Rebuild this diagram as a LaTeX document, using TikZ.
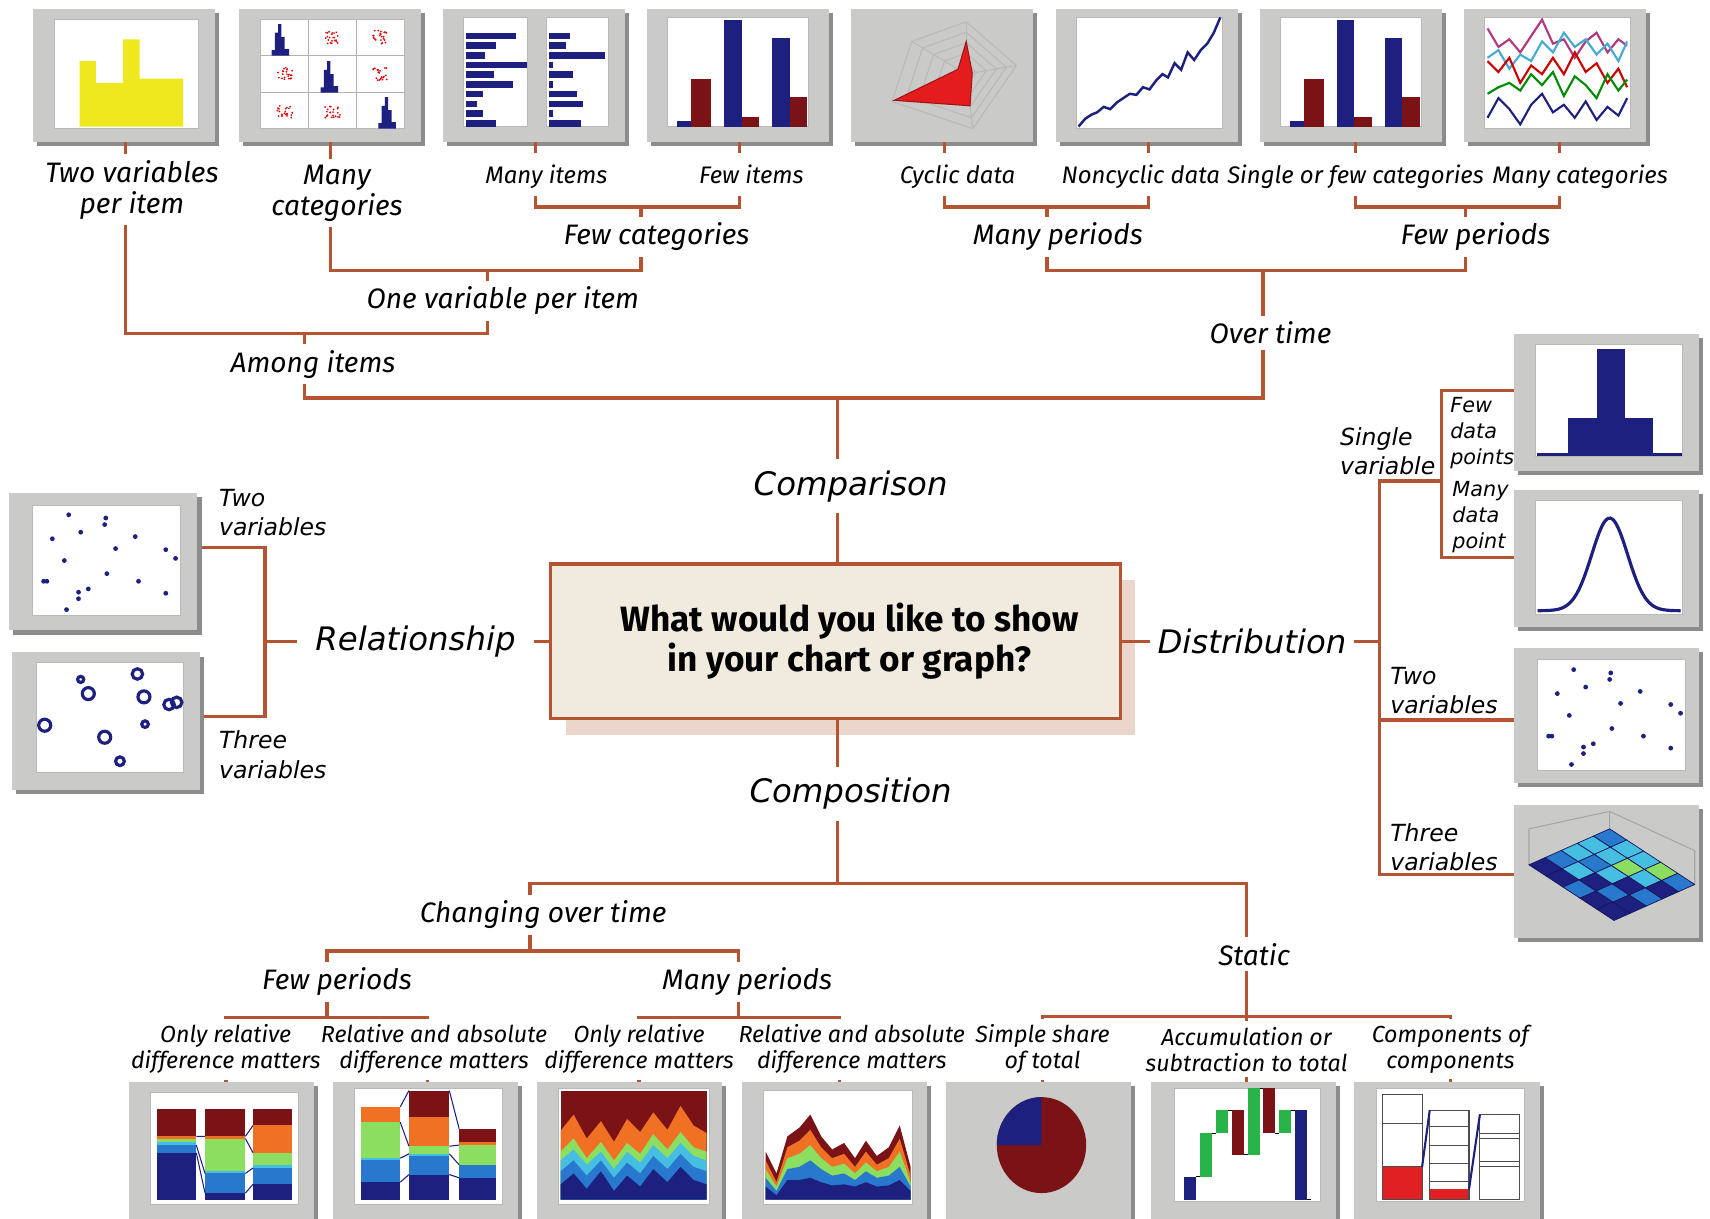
\documentclass[tikz,border=0pt]{standalone}
\usepackage{fontspec}
\newfontfamily\labelfont{Fira Sans}
\newfontfamily\widefont{DejaVu Sans}
\usetikzlibrary{calc,shadows}

\definecolor{treeline}{RGB}{180,84,50}
\definecolor{boxfill}{RGB}{241,234,222}
\definecolor{boxshadow}{RGB}{234,214,203}
\definecolor{framegray}{RGB}{202,202,200}
\definecolor{framedark}{RGB}{140,140,140}
\definecolor{navybar}{RGB}{30,32,128}
\definecolor{maroonbar}{RGB}{122,18,22}
\definecolor{yellowbar}{RGB}{240,232,30}
\definecolor{midblue}{RGB}{40,120,205}
\definecolor{skyblue}{RGB}{70,190,225}
\definecolor{limegreen}{RGB}{140,222,96}
\definecolor{orangefill}{RGB}{240,112,36}
\definecolor{barred}{RGB}{225,32,36}
\definecolor{bargreen}{RGB}{40,180,72}
\definecolor{radarred}{RGB}{228,28,30}

\tikzstyle{conn}=[draw=treeline, line width=1pt]
\tikzstyle{smalllbl}=[font=\labelfont\itshape\fontsize{6.8}{7.6}\selectfont, align=center, inner sep=1.5pt, text height=1.6ex, text depth=0.45ex]
\tikzstyle{midlbl}=[font=\labelfont\itshape\fontsize{8}{8.7}\selectfont, align=center, inner sep=1.5pt]
\tikzstyle{botlbl}=[font=\labelfont\itshape\fontsize{6.6}{7.4}\selectfont, align=center, inner sep=1.5pt]
\tikzstyle{catlbl}=[font=\widefont\itshape\fontsize{9.2}{11}\selectfont, inner xsep=5pt, inner ysep=3pt]
\tikzstyle{sidelbl}=[font=\widefont\itshape\fontsize{6.7}{8.3}\selectfont, align=left, anchor=west, inner sep=1pt]
\tikzstyle{tinylbl}=[font=\widefont\itshape\fontsize{5.9}{7.4}\selectfont, align=left, anchor=west, inner sep=1pt]
\tikzstyle{questionbox}=[draw=treeline, line width=1pt, fill=boxfill, minimum width=162pt, minimum height=44pt, align=center, font=\labelfont\bfseries\fontsize{10}{11.4}\selectfont, drop shadow={shadow xshift=4.3pt, shadow yshift=-4.6pt, fill=boxshadow, opacity=1}]
\tikzstyle{thin}=[line width=0.3pt]

% little chart thumbnails
\newcommand{\thumbframe}[2]{%
  \fill[framedark] (4,4) rectangle (#1+4,#2+4);
  \fill[framegray] (0,0) rectangle (#1,#2);}
\newcommand{\plotarea}[4]{%
  \filldraw[fill=white, draw=gray!55, line width=0.2pt] (#1,#2) rectangle (#3,#4);}
\newcommand{\groupbars}{%
  \fill[navybar] (28,108) rectangle (41,103);
  \fill[maroonbar] (41,108) rectangle (59,64);
  \fill[navybar] (71,108) rectangle (87,10);
  \fill[maroonbar] (87,108) rectangle (103,99);
  \fill[navybar] (115,108) rectangle (131,27);
  \fill[maroonbar] (131,108) rectangle (147,81);}
\newcommand{\scatterdots}{%
  \foreach \x/\y in {55/20,40/42,66/36,88/29,89/23,98/51,116/40,144/52,153/60,51/62,32/81,35/81,90/74,119/81,73/88,64/91,64/97,144/92,53/107}
    \fill[navybar] (\x,\y) circle (2.2);}

\begin{document}
\begin{tikzpicture}[x=0.0109cm, y=-0.0109cm, line join=miter]
\path[use as bounding box] (0,0) rectangle (1568,1117);
\clip (0,0) rectangle (1568,1117);
\fill[white] (0,0) rectangle (1568,1117);

%% top row
\begin{scope}[shift={(30,8)}]
  \thumbframe{167}{122}
  \plotarea{20}{10}{152}{110}
  \fill[yellowbar] (43,108) -- (43,48) -- (58,48) -- (58,68) -- (83,68) -- (83,28) -- (98,28) -- (98,64) -- (138,64) -- (138,108) -- cycle;
\end{scope}
\begin{scope}[shift={(219,8)}]
  \thumbframe{167}{122}
  \plotarea{20}{10}{152}{110}
  \draw[gray!60, thin] (64,10) -- (64,110) (108,10) -- (108,110) (20,43) -- (152,43) (20,77) -- (152,77);
  \foreach \dx/\dy in {0/0,45/34,98/67}
    \fill[navybar, shift={(\dx,\dy)}] (30,43) -- (30,38) -- (33,38) -- (33,22) -- (36,22) -- (36,14) -- (39,14) -- (39,26) -- (42,26) -- (42,37) -- (46,37) -- (46,43) -- cycle;
  \pgfmathsetseed{42}
  \foreach \cx/\cy in {86/26,130/26,42/60,130/60,42/94,86/94}
    \foreach \i in {1,...,22}
      \fill[red!85!black] ({\cx+7*rand},{\cy+6*rand}) circle (0.9);
\end{scope}
\begin{scope}[shift={(406,8)}]
  \thumbframe{167}{122}
  \plotarea{19}{8}{78}{108}
  \plotarea{95}{8}{152}{108}
  \foreach \len [count=\i] in {46,28,18,56,26,43,16,10,16,28}
    \fill[navybar] (21,{13+8.9*\i}) rectangle ({21+\len},{19+8.9*\i});
  \foreach \len [count=\i] in {20,16,52,4,22,4,26,32,4,30}
    \fill[navybar] (97,{13+8.9*\i}) rectangle ({97+\len},{19+8.9*\i});
\end{scope}
\begin{scope}[shift={(593,8)}]
  \thumbframe{167}{122}
  \plotarea{19}{8}{148}{108}
  \groupbars
\end{scope}
\begin{scope}[shift={(780,8)}]
  \thumbframe{167}{122}
  \begin{scope}[shift={(106,60)}]
    \foreach \s in {0.2,0.4,0.6,0.8,1}
      \draw[gray!55, thin, scale=\s] (0,-48) -- (46,-8) -- (6,50) -- (-68,25) -- (-50,-30) -- cycle;
    \foreach \vx/\vy in {0/-48,46/-8,6/50,-68/25,-50/-30}
      \draw[gray!55, thin] (0,0) -- (\vx,\vy);
    \filldraw[fill=radarred, draw=radarred!70!black, thin] (0,-30) -- (5.5,-1) -- (3.5,29) -- (-66,24) -- (-7.5,-4.5) -- cycle;
  \end{scope}
\end{scope}
\begin{scope}[shift={(968,8)}]
  \thumbframe{167}{122}
  \plotarea{19}{8}{153}{110}
  \draw[navybar, line width=0.7pt] plot coordinates {(21,108) (27,101) (33,97) (38,95) (44,90) (50,92) (56,86) (62,82) (68,78) (74,79) (80,72) (86,74) (92,66) (98,60) (103,63) (109,50) (115,56) (121,40) (127,47) (133,38) (139,32) (145,22) (151,8)};
\end{scope}
\begin{scope}[shift={(1155,8)}]
  \thumbframe{167}{122}
  \plotarea{19}{8}{148}{108}
  \groupbars
\end{scope}
\begin{scope}[shift={(1342,8)}]
  \thumbframe{167}{122}
  \plotarea{19}{8}{153}{110}
  \draw[magenta!70!black, line width=0.6pt] plot coordinates {(22,18) (32,35) (42,28) (52,40) (62,25) (72,10) (82,32) (92,28) (102,45) (112,30) (122,22) (132,40) (142,28) (150,34)};
  \draw[cyan!70!gray, line width=0.6pt] plot coordinates {(22,45) (32,38) (42,55) (52,42) (62,48) (72,30) (82,40) (92,22) (102,35) (112,28) (122,42) (132,32) (142,48) (150,30)};
  \draw[red!80!black, line width=0.6pt] plot coordinates {(22,48) (32,58) (42,45) (52,68) (62,52) (72,60) (82,45) (92,60) (102,40) (112,58) (122,50) (132,68) (142,55) (150,72)};
  \draw[green!55!black, line width=0.6pt] plot coordinates {(22,78) (32,72) (42,68) (52,75) (62,60) (72,70) (82,58) (92,80) (102,62) (112,70) (122,82) (132,60) (142,75) (150,65)};
  \draw[navybar, line width=0.6pt] plot coordinates {(22,100) (32,82) (42,92) (52,106) (62,88) (72,78) (82,95) (92,88) (102,100) (112,85) (122,102) (132,90) (142,98) (150,82)};
\end{scope}

%% left column
\begin{scope}[shift={(8,452)}]
  \thumbframe{173}{126}
  \plotarea{22}{11}{157}{112}
  \scatterdots
\end{scope}
\begin{scope}[shift={(11,598)}]
  \thumbframe{172}{126}
  \plotarea{22}{9}{157}{110}
  \foreach \x/\y/\r in {30/67/5.5,63/25/2.8,70/38/5.5,115/20/4.8,121/41/5.5,144/48/4.8,151/46/4.8,122/66/3,85/78/5.5,99/100/4}
    \draw[navybar, line width=0.9pt] (\x,\y) circle (\r);
\end{scope}

%% right column
\begin{scope}[shift={(1388,306)}]
  \thumbframe{170}{126}
  \plotarea{20}{10}{155}{112}
  \fill[navybar] (50,111) rectangle (128,77);
  \fill[navybar] (76,77) rectangle (102,14);
  \draw[navybar, line width=0.8pt] (21,111) -- (154,111);
\end{scope}
\begin{scope}[shift={(1388,449)}]
  \thumbframe{170}{126}
  \plotarea{20}{10}{155}{114}
  \draw[navybar, line width=0.9pt] plot[domain=22:153, samples=60, smooth] (\x,{111-85*exp(-(\x-88)*(\x-88)/540)});
\end{scope}
\begin{scope}[shift={(1388,594)}]
  \thumbframe{170}{124}
  \plotarea{22}{11}{157}{112}
  \scatterdots
\end{scope}
\begin{scope}[shift={(1388,738)}]
  \thumbframe{170}{122}
  \draw[gray!70, thin] (14,55) -- (14,22) (88,22) -- (88,6) (166,73) -- (166,42) (14,22) -- (88,6) -- (166,42);
  \foreach \c [count=\k from 0] in {navybar,midblue,skyblue,skyblue,midblue,navybar,skyblue,midblue,skyblue,skyblue,midblue,navybar,skyblue,limegreen,skyblue,navybar,midblue,navybar,skyblue,limegreen,navybar,navybar,midblue,navybar,midblue}{
    \pgfmathtruncatemacro{\i}{mod(\k,5)}
    \pgfmathtruncatemacro{\j}{\k/5}
    \filldraw[fill=\c, draw=navybar!70!black, line width=0.2pt]
      ({14+14.8*\i+15.6*\j},{55-6.6*\i+10.2*\j}) -- ++(14.8,-6.6) -- ++(15.6,10.2) -- ++(-14.8,6.6) -- cycle;
  }
\end{scope}

%% bottom row
\begin{scope}[shift={(118,992)}]
  \thumbframe{170}{132}
  \plotarea{20}{10}{156}{112}
  \foreach \ya/\yb/\c in {108/65/navybar,65/58/midblue,58/55/skyblue,55/52/limegreen,52/50/orangefill,50/25/maroonbar}
    \fill[\c] (26,\ya) rectangle (62,\yb);
  \foreach \ya/\yb/\c in {108/102/navybar,102/84/midblue,84/82/skyblue,82/52/limegreen,52/50/orangefill,50/25/maroonbar}
    \fill[\c] (70,\ya) rectangle (107,\yb);
  \foreach \ya/\yb/\c in {108/94/navybar,94/79/midblue,79/76/skyblue,76/65/limegreen,65/40/orangefill,40/25/maroonbar}
    \fill[\c] (114,\ya) rectangle (150,\yb);
  \draw[navybar, thin] (62,65) -- (70,102) (62,58) -- (70,84) (62,50) -- (70,50) (107,102) -- (114,94) (107,84) -- (114,79) (107,52) -- (114,65) (107,50) -- (114,40);
\end{scope}
\begin{scope}[shift={(305,992)}]
  \thumbframe{170}{132}
  \plotarea{20}{6}{156}{112}
  \foreach \ya/\yb/\c in {108/92/navybar,92/72/midblue,72/70/skyblue,70/37/limegreen,37/23/orangefill}
    \fill[\c] (26,\ya) rectangle (62,\yb);
  \foreach \ya/\yb/\c in {108/85/navybar,85/68/midblue,68/66/skyblue,66/59/limegreen,59/32/orangefill,32/8/maroonbar}
    \fill[\c] (70,\ya) rectangle (107,\yb);
  \foreach \ya/\yb/\c in {108/88/navybar,88/76/midblue,76/58/limegreen,58/55/orangefill,55/43/maroonbar}
    \fill[\c] (116,\ya) rectangle (150,\yb);
  \draw[navybar, thin] (62,92) -- (70,85) (62,70) -- (70,66) (62,37) -- (70,59) (62,23) -- (70,8) (107,85) -- (116,88) (107,66) -- (116,76) (107,59) -- (116,58) (107,8) -- (116,43);
\end{scope}
\begin{scope}[shift={(492,992)}]
  \thumbframe{170}{132}
  \plotarea{20}{6}{158}{112}
  \fill[maroonbar] (22,8) rectangle (156,108);
  \fill[orangefill] (22,108) -- plot coordinates {(22,45) (34,30) (46,52) (59,36) (71,55) (83,34) (95,46) (107,28) (120,44) (132,22) (144,40) (156,47)} -- (156,108) -- cycle;
  \fill[limegreen] (22,108) -- plot coordinates {(22,64) (34,52) (46,70) (59,55) (71,72) (83,56) (95,66) (107,48) (120,62) (132,46) (144,60) (156,64)} -- (156,108) -- cycle;
  \fill[skyblue] (22,108) -- plot coordinates {(22,72) (34,62) (46,76) (59,64) (71,80) (83,64) (95,74) (107,58) (120,70) (132,56) (144,68) (156,72)} -- (156,108) -- cycle;
  \fill[midblue] (22,108) -- plot coordinates {(22,82) (34,72) (46,86) (59,72) (71,88) (83,74) (95,84) (107,68) (120,80) (132,66) (144,78) (156,82)} -- (156,108) -- cycle;
  \fill[navybar] (22,108) -- plot coordinates {(22,94) (34,84) (46,98) (59,82) (71,100) (83,86) (95,96) (107,80) (120,92) (132,78) (144,90) (156,94)} -- (156,108) -- cycle;
\end{scope}
\begin{scope}[shift={(680,992)}]
  \thumbframe{170}{132}
  \plotarea{20}{8}{157}{112}
  \fill[maroonbar] (22,108) -- plot coordinates {(22,64) (32,84) (42,50) (53,42) (63,30) (73,50) (83,62) (94,56) (104,70) (114,54) (124,68) (135,60) (145,40) (155,78)} -- (155,108) -- cycle;
  \fill[orangefill] (22,108) -- plot coordinates {(22,72) (32,92) (42,60) (53,54) (63,44) (73,60) (83,70) (94,66) (104,78) (114,64) (124,76) (135,70) (145,52) (155,86)} -- (155,108) -- cycle;
  \fill[limegreen] (22,108) -- plot coordinates {(22,80) (32,96) (42,70) (53,66) (63,58) (73,70) (83,78) (94,75) (104,84) (114,74) (124,82) (135,78) (145,64) (155,92)} -- (155,108) -- cycle;
  \fill[midblue] (22,108) -- plot coordinates {(22,88) (32,100) (42,80) (53,78) (63,72) (73,80) (83,86) (94,84) (104,90) (114,82) (124,88) (135,86) (145,78) (155,96)} -- (155,108) -- cycle;
  \fill[navybar] (22,108) -- plot coordinates {(22,96) (32,104) (42,90) (53,90) (63,88) (73,92) (83,95) (94,94) (104,96) (114,92) (124,96) (135,95) (145,90) (155,100)} -- (155,108) -- cycle;
\end{scope}
\begin{scope}[shift={(867,992)}]
  \thumbframe{170}{132}
  \fill[maroonbar] (88,58) ellipse [x radius=41, y radius=44];
  \fill[navybar] (88,58) -- ++(0,-44) arc[start angle=270, end angle=180, x radius=41, y radius=44] -- cycle;
\end{scope}
\begin{scope}[shift={(1055,992)}]
  \thumbframe{170}{132}
  \plotarea{22}{6}{156}{110}
  \foreach \xa/\ya/\yb/\c in {31/108/87/navybar,45.5/87/47/bargreen,60/47/26/bargreen,74.5/26/67/maroonbar,89/67/6/bargreen,103.5/6/47/maroonbar,118/47/26/bargreen,132.5/26/108/navybar}{
    \fill[\c] (\xa,\ya) rectangle (\xa+11,\yb);
    \draw[black, thin] (\xa+11,\yb) -- ++(3.5,0);
  }
\end{scope}
\begin{scope}[shift={(1242,992)}]
  \thumbframe{170}{132}
  \plotarea{20}{6}{156}{110}
  \fill[barred] (26,78) rectangle (62,108);
  \fill[barred] (69,98.5) rectangle (105,108);
  \draw[gray!60!black, thin] (26,12) rectangle (62,108) (26,38) -- (62,38) (26,78) -- (62,78);
  \draw[gray!60!black, thin] (69,26) rectangle (105,108) (69,41) -- (105,41) (69,58) -- (105,58) (69,75) -- (105,75) (69,91.5) -- (105,91.5);
  \draw[gray!60!black, thin] (115,30) rectangle (151,108) (115,47) -- (151,47) (115,52) -- (151,52) (115,73) -- (151,73) (115,78) -- (151,78);
  \draw[navybar, line width=0.6pt] (62,78) -- (69,26) (105,98.5) -- (115,30);
\end{scope}

%% frame attach points
\coordinate (t1) at (115,130);
\coordinate (t2) at (303,130);
\coordinate (t3) at (491,130);
\coordinate (t4) at (678,130);
\coordinate (t5) at (866,130);
\coordinate (t6) at (1053,130);
\coordinate (t7) at (1243,130);
\coordinate (t8) at (1430,130);
\coordinate (l1e) at (185,502);
\coordinate (l2e) at (187,657);
\coordinate (r1w) at (1388,358);
\coordinate (r2w) at (1388,511);
\coordinate (r3w) at (1388,660);
\coordinate (r4w) at (1388,802);
\coordinate (b1t) at (207,992);
\coordinate (b2t) at (392,992);
\coordinate (b3t) at (586,992);
\coordinate (b4t) at (770,992);
\coordinate (b5t) at (956,992);
\coordinate (b6t) at (1143,992);
\coordinate (b7t) at (1330,992);

%% junctions
\coordinate (jFewCat) at (588,190);
\coordinate (jOneVar) at (447,248);
\coordinate (jAmong) at (279,306);
\coordinate (jManyPer) at (960,190);
\coordinate (jFewPer) at (1344,190);
\coordinate (jOver) at (1158,248);
\coordinate (jComp) at (768,365);
\coordinate (jRel) at (243,588);
\coordinate (jDist) at (1265,588);
\coordinate (jSingle) at (1322,441);
\coordinate (jCompo) at (768,810);
\coordinate (jChg) at (486,872);
\coordinate (jFewB) at (300,933);
\coordinate (jManyB) at (677,933);
\coordinate (jStat) at (1143,932);

%% labels
\node[questionbox] (question) at (766,588) {\hspace*{8pt}What would you like to show\\\hspace*{8pt}in your chart or graph?};
\node[catlbl] (comparison) at (780,446) {Comparison};
\node[catlbl] (relationship) at (381,588) {Relationship};
\node[catlbl, inner xsep=2pt] (distribution) at (1148,588) {Distribution};
\node[catlbl] (composition) at (780,728) {Composition};

\node[midlbl] (twoVarItem) at (121,174) {Two variables\\per item};
\node[midlbl] (manyCat) at (309,177) {Many\\categories};
\node[smalllbl] (manyItems) at (501,160) {Many items};
\node[smalllbl] (fewItems) at (689,160) {Few items};
\node[midlbl] (fewCat) at (602,217) {Few categories};
\node[midlbl] (oneVar) at (461,276) {One variable per item};
\node[midlbl] (amongItems) at (287,334) {Among items};
\node[smalllbl] (cyclic) at (878,160) {Cyclic data};
\node[smalllbl] (noncyclic) at (1046,160) {Noncyclic data};
\node[smalllbl] (singleFew) at (1243,160) {Single or few categories};
\node[smalllbl] (manyCatT) at (1449,160) {Many categories};
\node[midlbl] (manyPer) at (970,217) {Many periods};
\node[midlbl] (fewPer) at (1353,217) {Few periods};
\node[midlbl] (overTime) at (1165,305) {Over time};

\node[sidelbl] (relTwo) at (197,470) {Two\\variables};
\node[sidelbl] (relThree) at (197,692) {Three\\variables};
\node[sidelbl] (singleVar) at (1225,414) {Single\\variable};
\node[tinylbl] (fewPts) at (1326,397) {Few\\data\\points};
\node[tinylbl] (manyPts) at (1328,474) {Many\\data\\point};
\node[sidelbl] (distTwo) at (1271,633) {Two\\variables};
\node[sidelbl] (distThree) at (1271,777) {Three\\variables};

\node[midlbl] (changing) at (498,839) {Changing over time};
\node[midlbl] (static) at (1150,875) {Static};
\node[midlbl] (fewPerB) at (309,900) {Few periods};
\node[midlbl] (manyPerB) at (685,900) {Many periods};
\node[botlbl] (b1lbl) at (207,962) {Only relative\\difference matters};
\node[botlbl] (b2lbl) at (398,962) {Relative and absolute\\difference matters};
\node[botlbl] (b3lbl) at (586,962) {Only relative\\difference matters};
\node[botlbl] (b4lbl) at (781,962) {Relative and absolute\\difference matters};
\node[botlbl] (b5lbl) at (956,962) {Simple share\\of total};
\node[botlbl] (b6lbl) at (1143,962) {Accumulation or\\subtraction to total};
\node[botlbl] (b7lbl) at (1330,962) {Components of\\components};

%% comparison tree
\foreach \t/\n in {t1/twoVarItem,t2/manyCat,t3/manyItems,t4/fewItems,t5/cyclic,t6/noncyclic,t7/singleFew,t8/manyCatT}
  \draw[conn] (\t) -- (\n.north -| \t);
\draw[conn] (manyItems.south -| t3) |- (jFewCat) -| (fewItems.south -| t4);
\draw[conn] (jFewCat) -- (fewCat.north -| jFewCat);
\draw[conn] (manyCat.south -| t2) |- (jOneVar) -| (fewCat.south -| jFewCat);
\draw[conn] (jOneVar) -- (oneVar.north -| jOneVar);
\draw[conn] (twoVarItem.south -| t1) |- (jAmong) -| (oneVar.south -| jOneVar);
\draw[conn] (jAmong) -- (amongItems.north -| jAmong);
\draw[conn] (cyclic.south -| t5) |- (jManyPer) -| (noncyclic.south -| t6);
\draw[conn] (jManyPer) -- (manyPer.north -| jManyPer);
\draw[conn] (singleFew.south -| t7) |- (jFewPer) -| (manyCatT.south -| t8);
\draw[conn] (jFewPer) -- (fewPer.north -| jFewPer);
\draw[conn] (manyPer.south -| jManyPer) |- (jOver) -| (fewPer.south -| jFewPer);
\draw[conn] (jOver) -- (overTime.north -| jOver);
\draw[conn] (amongItems.south -| jAmong) |- (jComp) -| (overTime.south -| jOver);
\draw[conn] (jComp) -- (comparison.north -| jComp);
\draw[conn] (comparison.south -| jComp) -- (question.north -| jComp);

%% relationship and distribution
\draw[conn] (question.west) -- (relationship.east);
\draw[conn] (relationship.west) -- (jRel);
\draw[conn] (l1e) -| (jRel) |- (l2e);
\draw[conn] (question.east) -- (distribution.west);
\draw[conn] (distribution.east) -- (jDist);
\draw[conn] (r1w) -| (jSingle) |- (r2w);
\draw[conn] (jSingle) -| (r4w -| jDist) -- (r4w);
\draw[conn] (r3w -| jDist) -- (r3w);

%% composition tree
\draw[conn] (question.south -| jCompo) -- (composition.north -| jCompo);
\draw[conn] (composition.south -| jCompo) -- (jCompo);
\draw[conn] (changing.north -| jChg) |- (jCompo) -| (static.north -| jStat);
\draw[conn] (changing.south -| jChg) -- (jChg);
\draw[conn] (fewPerB.north -| jFewB) |- (jChg) -| (manyPerB.north -| jManyB);
\draw[conn] (fewPerB.south -| jFewB) -- (jFewB);
\draw[conn] (manyPerB.south -| jManyB) -- (jManyB);
\draw[conn] (static.south -| jStat) -- (jStat);
\draw[conn] (b1lbl.north -| b1t) |- (jFewB) -| (b2lbl.north -| b2t);
\draw[conn] (b3lbl.north -| b3t) |- (jManyB) -| (b4lbl.north -| b4t);
\draw[conn] (b5lbl.north -| b5t) |- (jStat) -| (b7lbl.north -| b7t);
\draw[conn] (jStat) -- (b6lbl.north -| b6t);
\foreach \n/\t in {b1lbl/b1t,b2lbl/b2t,b3lbl/b3t,b4lbl/b4t,b5lbl/b5t,b6lbl/b6t,b7lbl/b7t}
  \draw[conn] (\n.south -| \t) -- (\t);
\end{tikzpicture}
\end{document}
